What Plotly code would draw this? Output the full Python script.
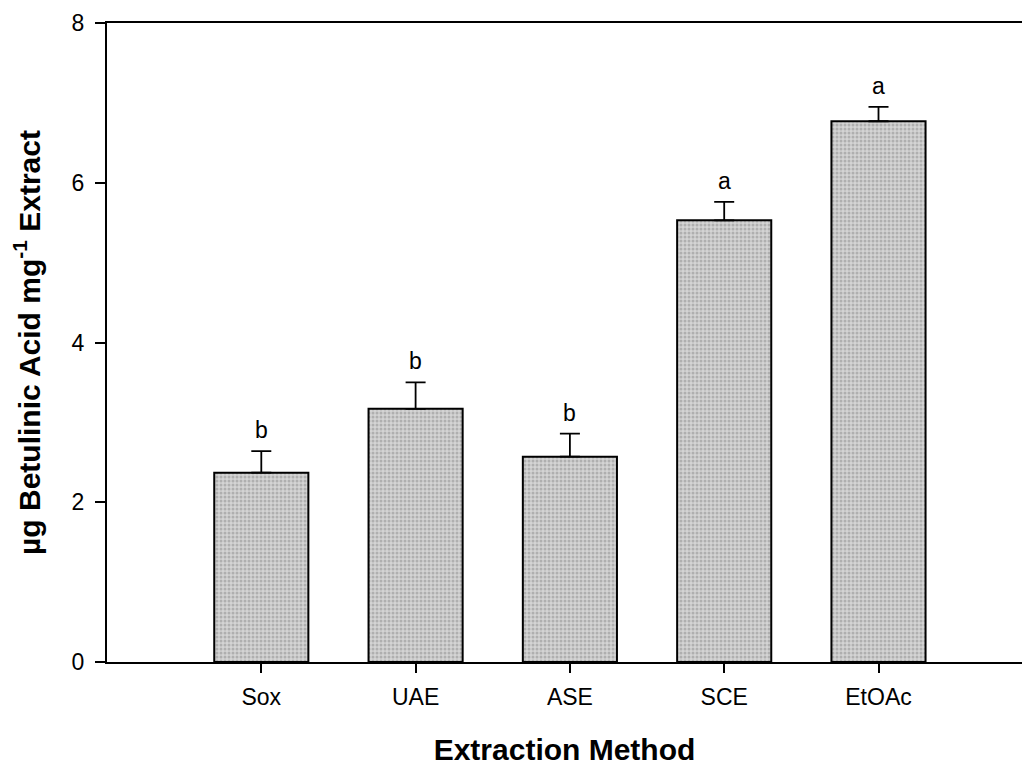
import plotly.graph_objects as go

# Betulinic acid yield per extraction method (mean and upper SE)
methods = ["Sox", "UAE", "ASE", "SCE", "EtOAc"]
yield_mean = [2.37, 3.17, 2.57, 5.53, 6.77]
yield_err = [0.27, 0.33, 0.29, 0.23, 0.18]
groups = ["b", "b", "b", "a", "a"]

FONT = "Arial, Liberation Sans, Helvetica, sans-serif"

fig = go.Figure()
fig.add_trace(go.Bar(
    x=methods,
    y=yield_mean,
    width=0.61,
    marker=dict(
        color="#c0c0c0",
        line=dict(color="black", width=2),
        pattern=dict(shape=".", fgcolor="#8a8a8a", bgcolor="#d4d4d4",
                     size=4, solidity=0.45),
    ),
    error_y=dict(type="data", array=yield_err,
                 arrayminus=[0] * len(yield_err),
                 color="black", thickness=1.8, width=10),
    showlegend=False,
))

for m, v, e, g in zip(methods, yield_mean, yield_err, groups):
    fig.add_annotation(x=m, y=v + e, text=g, showarrow=False,
                       yanchor="bottom", yshift=6,
                       font=dict(family=FONT, size=23, color="black"))

fig.update_layout(
    width=1023, height=766,
    margin=dict(l=107, r=1, t=23, b=104),
    paper_bgcolor="white", plot_bgcolor="white",
    font=dict(family=FONT, color="black"),
    xaxis=dict(
        range=[-1.0, 4.93],
        showline=True, linecolor="black", linewidth=2, mirror=True,
        ticks="outside", ticklen=9, tickwidth=1.5, tickcolor="black",
        tickfont=dict(family=FONT, size=23), ticklabelstandoff=4,
        showgrid=False,
        title=dict(text="<b>Extraction Method</b>",
                   font=dict(family=FONT, size=30), standoff=34),
    ),
    yaxis=dict(
        range=[0, 8], tickvals=[0, 2, 4, 6, 8],
        showline=True, linecolor="black", linewidth=2,
        ticks="outside", ticklen=10, tickwidth=1.5, tickcolor="black",
        tickfont=dict(family=FONT, size=23), ticklabelstandoff=6,
        showgrid=False, zeroline=False,
        title=dict(text="<b>µg Betulinic Acid mg<sup>-1</sup> Extract</b>",
                   font=dict(family=FONT, size=30), standoff=22),
    ),
)

fig.write_html("out.html")
